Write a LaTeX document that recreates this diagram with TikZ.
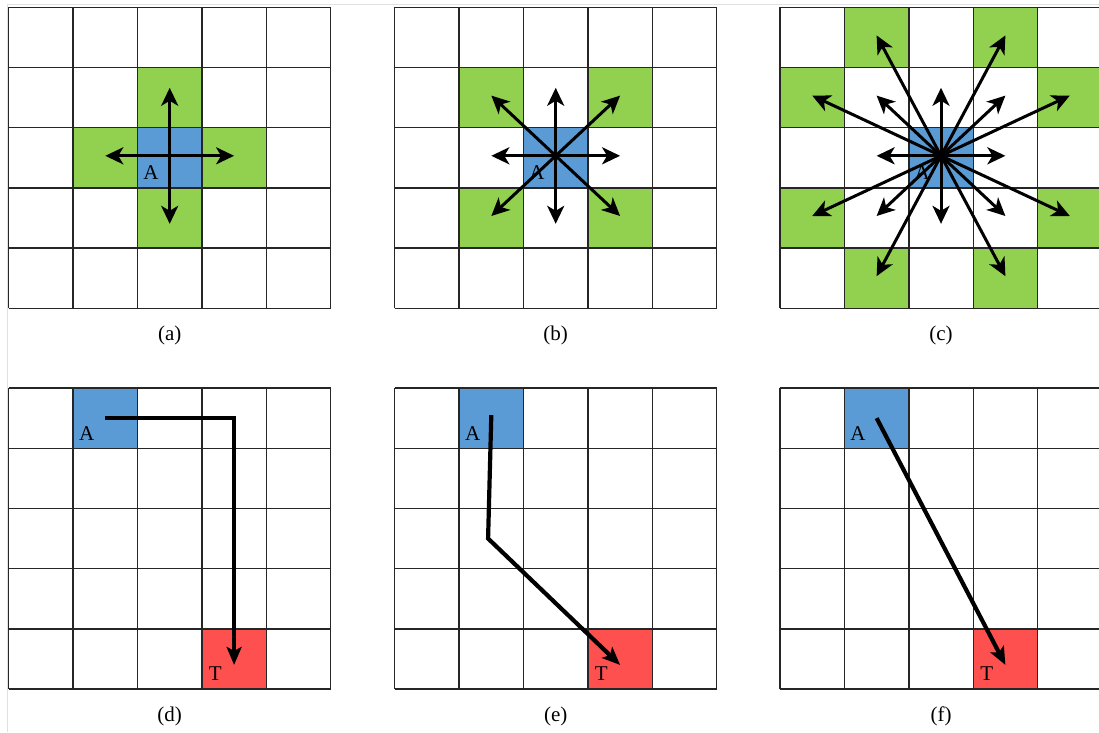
\documentclass[tikz,border=0pt]{standalone}
\usepackage{fontspec}
\setmainfont{Liberation Serif}
\usetikzlibrary{arrows.meta}

\definecolor{cellblue}{RGB}{91,155,213}
\definecolor{cellgreen}{RGB}{146,208,80}
\definecolor{cellred}{RGB}{255,80,80}

\begin{document}
\begin{tikzpicture}[x=1pt, y=-1pt,
  gridline/.style={black!85, line width=1.4pt},
  move/.style={-{Stealth[length=18pt,width=17pt,inset=5pt]}, line width=3pt, black},
  route/.style={-{Stealth[length=18pt,width=15pt,inset=4pt]}, line width=4.2pt, black, line join=miter},
  lab/.style={font=\fontsize{21}{25}\selectfont, inner sep=0pt},
  caption/.style={font=\fontsize{21}{25}\selectfont, inner sep=0pt}]

% --- PARAMETERS ---
\def\cw{64.4} % cell width
\def\ch{60.2} % cell height

\useasboundingbox (0,0) rectangle (1099,732);
\fill[white] (0,0) rectangle (1099,732);
\draw[black!12, line width=1pt] (7.3,732) -- (7.3,4.3) -- (1099,4.3);

% --- (a) four neighbours ---
\begin{scope}[shift={(8.7,7.3)}]
  \foreach \c/\r in {2/1,1/2,3/2,2/3}
    \fill[cellgreen] ({\c*\cw},{\r*\ch}) rectangle ++(\cw,\ch);
  \fill[cellblue] ({2*\cw},{2*\ch}) rectangle ++(\cw,\ch);
  \foreach \i in {0,...,5} {
    \draw[gridline] ({\i*\cw},0) -- ({\i*\cw},{5*\ch});
    \draw[gridline] (0,{\i*\ch}) -- ({5*\cw},{\i*\ch});
  }
  \node[lab] (a-A) at ({2*\cw+13.5},{3*\ch-15}) {A};
  \coordinate (a-o) at ({2.5*\cw},{2.5*\ch-2});
  \foreach \dx/\dy [count=\k] in {0/-1.13,0/1.13,-1/0,1/0} {
    \coordinate (a-\k) at ({(2.5+\dx)*\cw},{(2.5+\dy)*\ch-2});
    \draw[move] (a-o) -- (a-\k);
  }
  \node[caption] (a-cap) at ({2.5*\cw},328) {(a)};
\end{scope}

% --- (b) eight neighbours ---
\begin{scope}[shift={(394.7,7.3)}]
  \foreach \c/\r in {1/1,3/1,1/3,3/3}
    \fill[cellgreen] ({\c*\cw},{\r*\ch}) rectangle ++(\cw,\ch);
  \fill[cellblue] ({2*\cw},{2*\ch}) rectangle ++(\cw,\ch);
  \foreach \i in {0,...,5} {
    \draw[gridline] ({\i*\cw},0) -- ({\i*\cw},{5*\ch});
    \draw[gridline] (0,{\i*\ch}) -- ({5*\cw},{\i*\ch});
  }
  \node[lab] (b-A) at ({2*\cw+13.5},{3*\ch-15}) {A};
  \coordinate (b-o) at ({2.5*\cw},{2.5*\ch-2});
  \foreach \dx/\dy [count=\k] in {0/-1.13,0/1.13,-1/0,1/0,-1/-1,1/-1,-1/1,1/1} {
    \coordinate (b-\k) at ({(2.5+\dx)*\cw},{(2.5+\dy)*\ch-2});
    \draw[move] (b-o) -- (b-\k);
  }
  \node[caption] (b-cap) at ({2.5*\cw},328) {(b)};
\end{scope}

% --- (c) sixteen neighbours ---
\begin{scope}[shift={(780,7.3)}]
  \foreach \c/\r in {1/0,3/0,0/1,4/1,0/3,4/3,1/4,3/4}
    \fill[cellgreen] ({\c*\cw},{\r*\ch}) rectangle ++(\cw,\ch);
  \fill[cellblue] ({2*\cw},{2*\ch}) rectangle ++(\cw,\ch);
  \foreach \i in {0,...,5} {
    \draw[gridline] ({\i*\cw},0) -- ({\i*\cw},{5*\ch});
    \draw[gridline] (0,{\i*\ch}) -- ({5*\cw},{\i*\ch});
  }
  \node[lab] (c-A) at ({2*\cw+13.5},{3*\ch-15}) {A};
  \coordinate (c-o) at ({2.5*\cw},{2.5*\ch-2});
  \foreach \dx/\dy [count=\k] in {0/-1.13,0/1.13,-1/0,1/0,-1/-1,1/-1,-1/1,1/1,
                                  -1/-2,1/-2,-2/-1,2/-1,-2/1,2/1,-1/2,1/2} {
    \coordinate (c-\k) at ({(2.5+\dx)*\cw},{(2.5+\dy)*\ch-2});
    \draw[move] (c-o) -- (c-\k);
  }
  \node[caption] (c-cap) at ({2.5*\cw},328) {(c)};
\end{scope}

% --- (d) grid path ---
\begin{scope}[shift={(8.7,388)}]
  \fill[cellblue] ({1*\cw},0) rectangle ++(\cw,\ch);
  \fill[cellred] ({3*\cw},{4*\ch}) rectangle ++(\cw,\ch);
  \foreach \i in {0,...,5} {
    \draw[gridline] ({\i*\cw},0) -- ({\i*\cw},{5*\ch});
    \draw[gridline] (0,{\i*\ch}) -- ({5*\cw},{\i*\ch});
  }
  \node[lab] (d-A) at ({1*\cw+13.5},{\ch-15}) {A};
  \node[lab] (d-T) at ({3*\cw+13.5},{5*\ch-15}) {T};
  \coordinate (d-s) at ({1.5*\cw},{0.5*\ch});
  \coordinate (d-b) at ({3.5*\cw},{0.5*\ch});
  \coordinate (d-t) at ({3.5*\cw},{4.6*\ch});
  \draw[route] (d-s) -- (d-b) -- (d-t);
  \node[caption] (d-cap) at ({2.5*\cw},328) {(d)};
\end{scope}

% --- (e) eight-way path ---
\begin{scope}[shift={(394.7,388)}]
  \fill[cellblue] ({1*\cw},0) rectangle ++(\cw,\ch);
  \fill[cellred] ({3*\cw},{4*\ch}) rectangle ++(\cw,\ch);
  \foreach \i in {0,...,5} {
    \draw[gridline] ({\i*\cw},0) -- ({\i*\cw},{5*\ch});
    \draw[gridline] (0,{\i*\ch}) -- ({5*\cw},{\i*\ch});
  }
  \node[lab] (e-A) at ({1*\cw+13.5},{\ch-15}) {A};
  \node[lab] (e-T) at ({3*\cw+13.5},{5*\ch-15}) {T};
  \coordinate (e-s) at ({1.5*\cw},{0.45*\ch});
  \coordinate (e-b) at ({1.45*\cw},{2.5*\ch});
  \coordinate (e-t) at ({3.5*\cw},{4.6*\ch});
  \draw[route] (e-s) -- (e-b) -- (e-t);
  \node[caption] (e-cap) at ({2.5*\cw},328) {(e)};
\end{scope}

% --- (f) straight path ---
\begin{scope}[shift={(780,388)}]
  \fill[cellblue] ({1*\cw},0) rectangle ++(\cw,\ch);
  \fill[cellred] ({3*\cw},{4*\ch}) rectangle ++(\cw,\ch);
  \foreach \i in {0,...,5} {
    \draw[gridline] ({\i*\cw},0) -- ({\i*\cw},{5*\ch});
    \draw[gridline] (0,{\i*\ch}) -- ({5*\cw},{\i*\ch});
  }
  \node[lab] (f-A) at ({1*\cw+13.5},{\ch-15}) {A};
  \node[lab] (f-T) at ({3*\cw+13.5},{5*\ch-15}) {T};
  \coordinate (f-s) at ({1.5*\cw},{0.5*\ch});
  \coordinate (f-t) at ({3.5*\cw},{4.6*\ch});
  \draw[route] (f-s) -- (f-t);
  \node[caption] (f-cap) at ({2.5*\cw},328) {(f)};
\end{scope}

\end{tikzpicture}
\end{document}
